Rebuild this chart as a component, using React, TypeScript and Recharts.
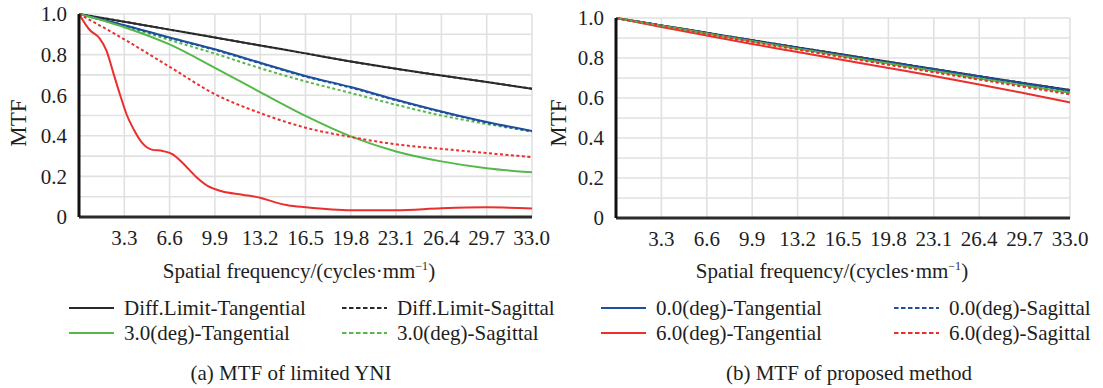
import React from 'react';
import { LineChart, Line, XAxis, YAxis, CartesianGrid } from 'recharts';

// axis ticks
const freqTicks = [0, 3.3, 6.6, 9.9, 13.2, 16.5, 19.8, 23.1, 26.4, 29.7, 33.0];
const freqTickLabels = ['', '3.3', '6.6', '9.9', '13.2', '16.5', '19.8', '23.1', '26.4', '29.7', '33.0'];
const mtfTicks = [0, 0.1, 0.2, 0.3, 0.4, 0.5, 0.6, 0.7, 0.8, 0.9, 1.0];
const mtfTickLabels = ['0', '', '0.2', '', '0.4', '', '0.6', '', '0.8', '', '1.0'];

// (a) MTF of limited YNI  -- values at freqTicks
const diffT_a = [1.0, 0.962, 0.923, 0.884, 0.845, 0.806, 0.766, 0.73, 0.697, 0.665, 0.632];
const diffS_a = [1.0, 0.962, 0.923, 0.884, 0.845, 0.806, 0.766, 0.73, 0.697, 0.665, 0.632];
const deg0T_a = [1.0, 0.945, 0.884, 0.826, 0.76, 0.695, 0.64, 0.578, 0.52, 0.468, 0.424];
const deg0S_a = [1.0, 0.944, 0.882, 0.823, 0.757, 0.692, 0.637, 0.575, 0.517, 0.465, 0.422];
const deg3T_a = [1.0, 0.935, 0.85, 0.735, 0.615, 0.498, 0.397, 0.323, 0.274, 0.24, 0.22];
const deg3S_a = [1.0, 0.94, 0.872, 0.805, 0.733, 0.668, 0.611, 0.553, 0.5, 0.458, 0.422];
const deg6S_a = [1.0, 0.875, 0.74, 0.605, 0.512, 0.44, 0.394, 0.358, 0.336, 0.315, 0.295];
// 6.0 deg tangential drops fast, read on a finer grid
const deg6TFreq_a = [0, 0.8, 1.5, 2.0, 2.5, 3.0, 3.5, 4.0, 4.6, 5.3, 6.1, 6.8, 7.5, 8.5, 9.4, 10.4, 11.9, 13.2, 14.3, 15.2, 16.5, 19.8, 23.1, 26.4, 29.7, 33.0];
const deg6T_a = [1.0, 0.92, 0.88, 0.82, 0.71, 0.6, 0.5, 0.43, 0.365, 0.332, 0.325, 0.31, 0.27, 0.2, 0.152, 0.127, 0.11, 0.095, 0.072, 0.058, 0.048, 0.033, 0.033, 0.043, 0.048, 0.042];

// (b) MTF of proposed method
const diffT_b = [1.0, 0.963, 0.926, 0.889, 0.853, 0.817, 0.781, 0.745, 0.709, 0.674, 0.64];
const diffS_b = [1.0, 0.963, 0.926, 0.889, 0.853, 0.817, 0.781, 0.745, 0.709, 0.674, 0.64];
const deg0T_b = [1.0, 0.963, 0.925, 0.887, 0.851, 0.815, 0.779, 0.744, 0.708, 0.672, 0.638];
const deg0S_b = [1.0, 0.962, 0.923, 0.885, 0.848, 0.811, 0.775, 0.739, 0.703, 0.667, 0.632];
const deg3T_b = [1.0, 0.961, 0.922, 0.884, 0.846, 0.809, 0.772, 0.735, 0.698, 0.662, 0.626];
const deg3S_b = [1.0, 0.96, 0.921, 0.882, 0.844, 0.806, 0.769, 0.732, 0.695, 0.658, 0.622];
const deg6T_b = [1.0, 0.955, 0.912, 0.87, 0.83, 0.79, 0.75, 0.71, 0.668, 0.624, 0.578];
const deg6S_b = [1.0, 0.96, 0.92, 0.881, 0.842, 0.804, 0.766, 0.729, 0.692, 0.655, 0.618];

const BLACK = '#2a2a2a';
const BLUE = '#1d4f9e';
const GREEN = '#55b848';
const RED = '#ea2f2c';
const FONT = '"Liberation Serif", "Times New Roman", serif';

const pts = (xs: number[], ys: number[]) => xs.map((f, i) => ({ f, v: ys[i] }));

type Series = { name: string; color: string; dashed: boolean; data: { f: number; v: number }[] };

const seriesA: Series[] = [
  { name: 'Diff.Limit-Sagittal', color: BLACK, dashed: true, data: pts(freqTicks, diffS_a) },
  { name: 'Diff.Limit-Tangential', color: BLACK, dashed: false, data: pts(freqTicks, diffT_a) },
  { name: '3.0(deg)-Sagittal', color: GREEN, dashed: true, data: pts(freqTicks, deg3S_a) },
  { name: '0.0(deg)-Sagittal', color: BLUE, dashed: true, data: pts(freqTicks, deg0S_a) },
  { name: '0.0(deg)-Tangential', color: BLUE, dashed: false, data: pts(freqTicks, deg0T_a) },
  { name: '3.0(deg)-Tangential', color: GREEN, dashed: false, data: pts(freqTicks, deg3T_a) },
  { name: '6.0(deg)-Sagittal', color: RED, dashed: true, data: pts(freqTicks, deg6S_a) },
  { name: '6.0(deg)-Tangential', color: RED, dashed: false, data: pts(deg6TFreq_a, deg6T_a) },
];

const seriesB: Series[] = [
  { name: 'Diff.Limit-Sagittal', color: BLACK, dashed: true, data: pts(freqTicks, diffS_b) },
  { name: 'Diff.Limit-Tangential', color: BLACK, dashed: false, data: pts(freqTicks, diffT_b) },
  { name: '6.0(deg)-Tangential', color: RED, dashed: false, data: pts(freqTicks, deg6T_b) },
  { name: '0.0(deg)-Tangential', color: BLUE, dashed: false, data: pts(freqTicks, deg0T_b) },
  { name: '0.0(deg)-Sagittal', color: BLUE, dashed: true, data: pts(freqTicks, deg0S_b) },
  { name: '3.0(deg)-Tangential', color: GREEN, dashed: false, data: pts(freqTicks, deg3T_b) },
  { name: '3.0(deg)-Sagittal', color: GREEN, dashed: true, data: pts(freqTicks, deg3S_b) },
  { name: '6.0(deg)-Sagittal', color: RED, dashed: true, data: pts(freqTicks, deg6S_b) },
];

type PanelProps = {
  series: Series[];
  width: number;
  top: number;
  right: number;
  yWidth: number;
  xHeight: number;
};

const MtfPanel = ({ series, width, top, right, yWidth, xHeight }: PanelProps) => (
  <LineChart width={width} height={260} margin={{ top, right, bottom: 0, left: 0 }}>
    <CartesianGrid stroke="#e1e1e1" strokeWidth={1.6} />
    <XAxis
      dataKey="f"
      type="number"
      domain={[0, 33]}
      ticks={freqTicks}
      tickFormatter={(_v: number, i: number) => freqTickLabels[i]}
      allowDataOverflow
      height={xHeight}
      tickLine={false}
      tickSize={0}
      tickMargin={13}
      axisLine={{ stroke: '#2b2b2b', strokeWidth: 3 }}
      tick={{ fill: '#1e1e1e', fontSize: 21, fontFamily: FONT }}
    />
    <YAxis
      type="number"
      domain={[0, 1]}
      ticks={mtfTicks}
      tickFormatter={(_v: number, i: number) => mtfTickLabels[i]}
      width={yWidth}
      tickLine={false}
      tickSize={0}
      tickMargin={12}
      interval={0}
      axisLine={{ stroke: '#111', strokeWidth: 3 }}
      tick={{ fill: '#1e1e1e', fontSize: 21, fontFamily: FONT }}
    />
    {series.map((s) => (
      <Line
        key={s.name}
        data={s.data}
        dataKey="v"
        type="monotone"
        stroke={s.color}
        strokeWidth={2}
        strokeDasharray={s.dashed ? '3 2.5' : undefined}
        dot={false}
        activeDot={false}
        isAnimationActive={false}
      />
    ))}
  </LineChart>
);

const Txt = ({ x, y, children, rotate, size = 21 }: { x: number; y: number; children: React.ReactNode; rotate?: boolean; size?: number }) => (
  <div
    style={{
      position: 'absolute',
      left: x,
      top: y,
      transform: `translate(-50%, -50%)${rotate ? ' rotate(-90deg)' : ''}`,
      whiteSpace: 'nowrap',
      fontSize: size,
      lineHeight: '24px',
    }}
  >
    {children}
  </div>
);

const LegendItem = ({ x, y, color, dashed, label }: { x: number; y: number; color: string; dashed: boolean; label: string }) => (
  <div
    style={{
      position: 'absolute',
      left: x,
      top: y - 12,
      height: 24,
      display: 'flex',
      alignItems: 'center',
      whiteSpace: 'nowrap',
      fontSize: 21,
    }}
  >
    <svg width={45} height={6} style={{ marginRight: 10 }}>
      <line x1={0} y1={3} x2={45} y2={3} stroke={color} strokeWidth={2.2} strokeDasharray={dashed ? '4.5 2.5' : undefined} />
    </svg>
    <span>{label}</span>
  </div>
);

const xTitle = (
  <span>
    Spatial frequency/(cycles·mm<sup style={{ fontSize: 12, verticalAlign: 'top', lineHeight: '14px' }}>−1</sup>)
  </span>
);

export default function App() {
  return (
    <div
      style={{
        position: 'relative',
        width: 1103,
        height: 388,
        background: '#fff',
        fontFamily: FONT,
        color: '#1e1e1e',
        overflow: 'hidden',
      }}
    >
      <style>{'body{margin:0}'}</style>
      <div style={{ position: 'absolute', left: 0, top: 0 }}>
        <MtfPanel series={seriesA} width={550} top={14} right={18} yWidth={79} xHeight={43} />
      </div>
      <div style={{ position: 'absolute', left: 550, top: 0 }}>
        <MtfPanel series={seriesB} width={553} top={18} right={33} yWidth={66} xHeight={42} />
      </div>

      <Txt x={19} y={123} rotate size={23}>MTF</Txt>
      <Txt x={559} y={123} rotate size={23}>MTF</Txt>
      <Txt x={299} y={271}>{xTitle}</Txt>
      <Txt x={832} y={271}>{xTitle}</Txt>

      <LegendItem x={69} y={308} color={BLACK} dashed={false} label="Diff.Limit-Tangential" />
      <LegendItem x={342} y={308} color={BLACK} dashed label="Diff.Limit-Sagittal" />
      <LegendItem x={601} y={308} color={BLUE} dashed={false} label="0.0(deg)-Tangential" />
      <LegendItem x={894} y={308} color={BLUE} dashed label="0.0(deg)-Sagittal" />
      <LegendItem x={69} y={333} color={GREEN} dashed={false} label="3.0(deg)-Tangential" />
      <LegendItem x={342} y={333} color={GREEN} dashed label="3.0(deg)-Sagittal" />
      <LegendItem x={601} y={333} color={RED} dashed={false} label="6.0(deg)-Tangential" />
      <LegendItem x={894} y={333} color={RED} dashed label="6.0(deg)-Sagittal" />

      <Txt x={291} y={373}>(a) MTF of limited YNI</Txt>
      <Txt x={849} y={373}>(b) MTF of proposed method</Txt>
    </div>
  );
}
